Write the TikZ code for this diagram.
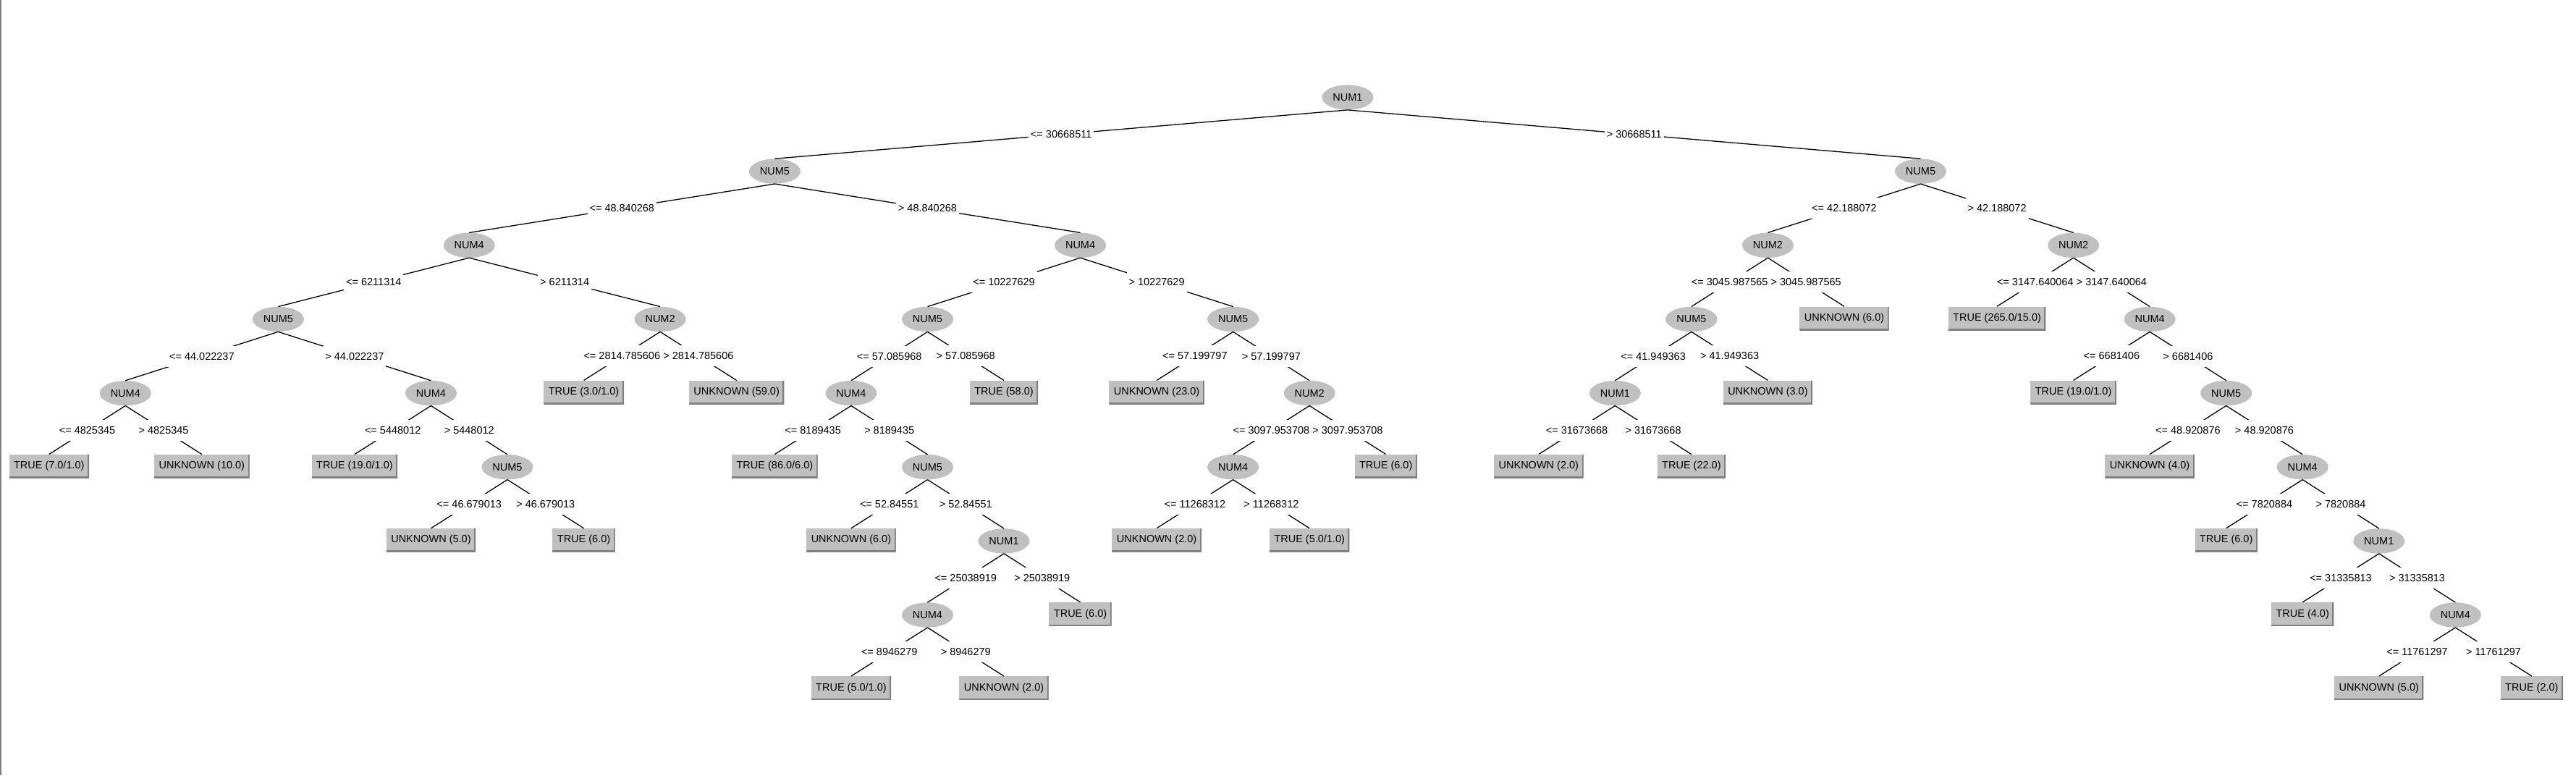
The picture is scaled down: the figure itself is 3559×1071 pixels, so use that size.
\documentclass[tikz,border=0pt]{standalone}
\usepackage{fontspec}
\setmainfont{Liberation Sans}
\usetikzlibrary{shapes.geometric}
\definecolor{wgray}{HTML}{C0C0C0}
\definecolor{wdark}{HTML}{808080}
\tikzset{
  every node/.style={font=\fontsize{14.5}{17}\selectfont},
  enode/.style={ellipse, fill=wgray, minimum width=71pt, minimum height=34.4pt, inner sep=0pt},
  leafbox/.style={rectangle, fill=wgray, minimum height=32.5pt, inner xsep=6.5pt, inner ysep=0pt, yshift=1.2pt,
    path picture={\draw[wdark, line width=4pt] (path picture bounding box.north east) -- (path picture bounding box.south east) -- (path picture bounding box.south west);}},
  lbl/.style={fill=white, inner xsep=3pt, inner ysep=0pt, minimum height=29pt},
  edge/.style={draw=black, line width=1.3pt}
}
\begin{document}
\begin{tikzpicture}
\useasboundingbox (0pt,0pt) rectangle (3559pt,-1071pt);
\fill[white] (0pt,0pt) rectangle (3559pt,-1071pt);
\draw[wdark, line width=1.5pt] (1.2pt,0pt) -- (1.2pt,-1071pt);
\begin{scope}[x=52.77pt, y=-102.15pt, shift={(15pt,-134.5pt)}]
% level 0
\node[enode] (n0) at (35,0) {NUM1};
% level 1
\node[enode] (a) at (20,1) {NUM5};
\node[enode] (b) at (50,1) {NUM5};
% level 2
\node[enode] (aa) at (12,2) {NUM4};
\node[enode] (ab) at (28,2) {NUM4};
\node[enode] (ba) at (46,2) {NUM2};
\node[enode] (bb) at (54,2) {NUM2};
% level 3
\node[enode] (aaa) at (7,3) {NUM5};
\node[enode] (aab) at (17,3) {NUM2};
\node[enode] (aba) at (24,3) {NUM5};
\node[enode] (abb) at (32,3) {NUM5};
\node[enode] (baa) at (44,3) {NUM5};
\node[leafbox] (bab) at (48,3) {UNKNOWN (6.0)};
\node[leafbox] (bba) at (52,3) {TRUE (265.0/15.0)};
\node[enode] (bbb) at (56,3) {NUM4};
% level 4
\node[enode] (aaaa) at (3,4) {NUM4};
\node[enode] (aaab) at (11,4) {NUM4};
\node[leafbox] (aaba) at (15,4) {TRUE (3.0/1.0)};
\node[leafbox] (aabb) at (19,4) {UNKNOWN (59.0)};
\node[enode] (abaa) at (22,4) {NUM4};
\node[leafbox] (abab) at (26,4) {TRUE (58.0)};
\node[leafbox] (abba) at (30,4) {UNKNOWN (23.0)};
\node[enode] (abbb) at (34,4) {NUM2};
\node[enode] (baaa) at (42,4) {NUM1};
\node[leafbox] (baab) at (46,4) {UNKNOWN (3.0)};
\node[leafbox] (bbba) at (54,4) {TRUE (19.0/1.0)};
\node[enode] (bbbb) at (58,4) {NUM5};
% level 5
\node[leafbox] (aaaaa) at (1,5) {TRUE (7.0/1.0)};
\node[leafbox] (aaaab) at (5,5) {UNKNOWN (10.0)};
\node[leafbox] (aaaba) at (9,5) {TRUE (19.0/1.0)};
\node[enode] (aaabb) at (13,5) {NUM5};
\node[leafbox] (abaaa) at (20,5) {TRUE (86.0/6.0)};
\node[enode] (abaab) at (24,5) {NUM5};
\node[enode] (abbba) at (32,5) {NUM4};
\node[leafbox] (abbbb) at (36,5) {TRUE (6.0)};
\node[leafbox] (baaaa) at (40,5) {UNKNOWN (2.0)};
\node[leafbox] (baaab) at (44,5) {TRUE (22.0)};
\node[leafbox] (bbbba) at (56,5) {UNKNOWN (4.0)};
\node[enode] (bbbbb) at (60,5) {NUM4};
% level 6
\node[leafbox] (aaabba) at (11,6) {UNKNOWN (5.0)};
\node[leafbox] (aaabbb) at (15,6) {TRUE (6.0)};
\node[leafbox] (abaaba) at (22,6) {UNKNOWN (6.0)};
\node[enode] (abaabb) at (26,6) {NUM1};
\node[leafbox] (abbbaa) at (30,6) {UNKNOWN (2.0)};
\node[leafbox] (abbbab) at (34,6) {TRUE (5.0/1.0)};
\node[leafbox] (bbbbba) at (58,6) {TRUE (6.0)};
\node[enode] (bbbbbb) at (62,6) {NUM1};
% level 7
\node[enode] (abaabba) at (24,7) {NUM4};
\node[leafbox] (abaabbb) at (28,7) {TRUE (6.0)};
\node[leafbox] (bbbbbba) at (60,7) {TRUE (4.0)};
\node[enode] (bbbbbbb) at (64,7) {NUM4};
% level 8
\node[leafbox] (abaabbaa) at (22,8) {TRUE (5.0/1.0)};
\node[leafbox] (abaabbab) at (26,8) {UNKNOWN (2.0)};
\node[leafbox] (bbbbbbba) at (62,8) {UNKNOWN (5.0)};
\node[leafbox] (bbbbbbbb) at (66,8) {TRUE (2.0)};
% edges
\draw[edge] (n0.south) -- node[lbl]{<= 30668511} (a.north);
\draw[edge] (n0.south) -- node[lbl]{> 30668511} (b.north);
\draw[edge] (a.south) -- node[lbl]{<= 48.840268} (aa.north);
\draw[edge] (a.south) -- node[lbl]{> 48.840268} (ab.north);
\draw[edge] (aa.south) -- node[lbl]{<= 6211314} (aaa.north);
\draw[edge] (aa.south) -- node[lbl]{> 6211314} (aab.north);
\draw[edge] (aaa.south) -- node[lbl]{<= 44.022237} (aaaa.north);
\draw[edge] (aaa.south) -- node[lbl]{> 44.022237} (aaab.north);
\draw[edge] (aaaa.south) -- node[lbl]{<= 4825345} (aaaaa.north);
\draw[edge] (aaaa.south) -- node[lbl]{> 4825345} (aaaab.north);
\draw[edge] (aaab.south) -- node[lbl]{<= 5448012} (aaaba.north);
\draw[edge] (aaab.south) -- node[lbl]{> 5448012} (aaabb.north);
\draw[edge] (aaabb.south) -- node[lbl]{<= 46.679013} (aaabba.north);
\draw[edge] (aaabb.south) -- node[lbl]{> 46.679013} (aaabbb.north);
\draw[edge] (aab.south) -- node[lbl]{<= 2814.785606} (aaba.north);
\draw[edge] (aab.south) -- node[lbl]{> 2814.785606} (aabb.north);
\draw[edge] (ab.south) -- node[lbl]{<= 10227629} (aba.north);
\draw[edge] (ab.south) -- node[lbl]{> 10227629} (abb.north);
\draw[edge] (aba.south) -- node[lbl]{<= 57.085968} (abaa.north);
\draw[edge] (aba.south) -- node[lbl]{> 57.085968} (abab.north);
\draw[edge] (abaa.south) -- node[lbl]{<= 8189435} (abaaa.north);
\draw[edge] (abaa.south) -- node[lbl]{> 8189435} (abaab.north);
\draw[edge] (abaab.south) -- node[lbl]{<= 52.84551} (abaaba.north);
\draw[edge] (abaab.south) -- node[lbl]{> 52.84551} (abaabb.north);
\draw[edge] (abaabb.south) -- node[lbl]{<= 25038919} (abaabba.north);
\draw[edge] (abaabb.south) -- node[lbl]{> 25038919} (abaabbb.north);
\draw[edge] (abaabba.south) -- node[lbl]{<= 8946279} (abaabbaa.north);
\draw[edge] (abaabba.south) -- node[lbl]{> 8946279} (abaabbab.north);
\draw[edge] (abb.south) -- node[lbl]{<= 57.199797} (abba.north);
\draw[edge] (abb.south) -- node[lbl]{> 57.199797} (abbb.north);
\draw[edge] (abbb.south) -- node[lbl]{<= 3097.953708} (abbba.north);
\draw[edge] (abbb.south) -- node[lbl]{> 3097.953708} (abbbb.north);
\draw[edge] (abbba.south) -- node[lbl]{<= 11268312} (abbbaa.north);
\draw[edge] (abbba.south) -- node[lbl]{> 11268312} (abbbab.north);
\draw[edge] (b.south) -- node[lbl]{<= 42.188072} (ba.north);
\draw[edge] (b.south) -- node[lbl]{> 42.188072} (bb.north);
\draw[edge] (ba.south) -- node[lbl]{<= 3045.987565} (baa.north);
\draw[edge] (ba.south) -- node[lbl]{> 3045.987565} (bab.north);
\draw[edge] (baa.south) -- node[lbl]{<= 41.949363} (baaa.north);
\draw[edge] (baa.south) -- node[lbl]{> 41.949363} (baab.north);
\draw[edge] (baaa.south) -- node[lbl]{<= 31673668} (baaaa.north);
\draw[edge] (baaa.south) -- node[lbl]{> 31673668} (baaab.north);
\draw[edge] (bb.south) -- node[lbl]{<= 3147.640064} (bba.north);
\draw[edge] (bb.south) -- node[lbl]{> 3147.640064} (bbb.north);
\draw[edge] (bbb.south) -- node[lbl]{<= 6681406} (bbba.north);
\draw[edge] (bbb.south) -- node[lbl]{> 6681406} (bbbb.north);
\draw[edge] (bbbb.south) -- node[lbl]{<= 48.920876} (bbbba.north);
\draw[edge] (bbbb.south) -- node[lbl]{> 48.920876} (bbbbb.north);
\draw[edge] (bbbbb.south) -- node[lbl]{<= 7820884} (bbbbba.north);
\draw[edge] (bbbbb.south) -- node[lbl]{> 7820884} (bbbbbb.north);
\draw[edge] (bbbbbb.south) -- node[lbl]{<= 31335813} (bbbbbba.north);
\draw[edge] (bbbbbb.south) -- node[lbl]{> 31335813} (bbbbbbb.north);
\draw[edge] (bbbbbbb.south) -- node[lbl]{<= 11761297} (bbbbbbba.north);
\draw[edge] (bbbbbbb.south) -- node[lbl]{> 11761297} (bbbbbbbb.north);
\end{scope}
\end{tikzpicture}
\end{document}
